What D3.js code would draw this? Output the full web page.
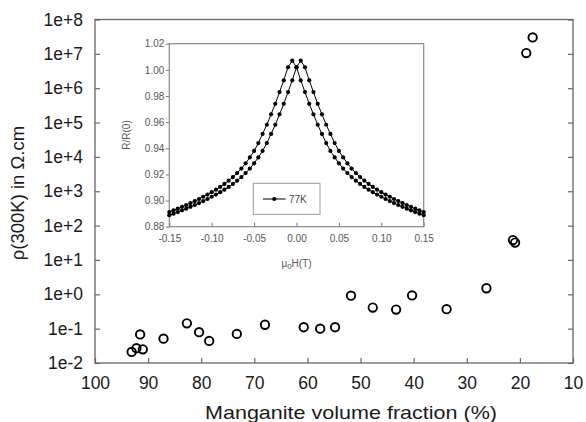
<!DOCTYPE html>
<html>
<head>
<meta charset="utf-8">
<script src="https://cdn.jsdelivr.net/npm/d3@7"></script>
<style>
  body { margin: 0; background: #fff; }
  svg { display: block; font-family: "Liberation Sans", Arial, sans-serif; }
  .axis path.domain { display: none; }
  .main .tick line { stroke: #666; stroke-width: 1.2; }
  .main .tick text { fill: #1a1a1a; font-size: 17.5px; }
  .inset .tick line { stroke: #777; stroke-width: 1; }
  .inset .tick text { fill: #555; font-size: 10px; }
</style>
</head>
<body>
<div id="chart"></div>
<script>
// main plot: room-temperature resistivity vs manganite volume fraction
var fraction = [93.1, 92.2, 91.0, 91.5, 87.1, 82.7, 80.4, 78.5, 73.3, 68.0, 60.7, 57.6,
                54.8, 51.8, 47.7, 43.3, 40.3, 33.8, 26.3, 21.3, 20.9, 18.8, 17.6];
var resistivity = [0.021, 0.027, 0.025, 0.068, 0.051, 0.143, 0.079, 0.044, 0.070, 0.13, 0.11, 0.10,
                   0.11, 0.91, 0.41, 0.36, 0.93, 0.37, 1.5, 38, 32, 1.05e7, 3.0e7];

var xTicks = [100, 90, 80, 70, 60, 50, 40, 30, 20, 10];
var yTicks = [1e-2, 1e-1, 1e0, 1e1, 1e2, 1e3, 1e4, 1e5, 1e6, 1e7, 1e8];
var yTickLabels = ["1e-2", "1e-1", "1e+0", "1e+1", "1e+2", "1e+3", "1e+4", "1e+5", "1e+6", "1e+7", "1e+8"];

// inset: magnetoresistance at 77K, up and down sweeps
var field = [-0.150, -0.145, -0.140, -0.135, -0.130, -0.125, -0.120, -0.115, -0.110, -0.105,
             -0.100, -0.095, -0.090, -0.085, -0.080, -0.075, -0.070, -0.065, -0.060, -0.055,
             -0.050, -0.045, -0.040, -0.035, -0.030, -0.025, -0.020, -0.015, -0.010, -0.005,
              0.000,  0.005,  0.010,  0.015,  0.020,  0.025,  0.030,  0.035,  0.040,  0.045,
              0.050,  0.055,  0.060,  0.065,  0.070,  0.075,  0.080,  0.085,  0.090,  0.095,
              0.100,  0.105,  0.110,  0.115,  0.120,  0.125,  0.130,  0.135,  0.140,  0.145, 0.150];
var sweepDown = [0.8912, 0.8925, 0.8938, 0.8952, 0.8966, 0.8981, 0.8996, 0.9012, 0.9029, 0.9046,
                 0.9064, 0.9083, 0.9104, 0.9127, 0.9152, 0.9180, 0.9210, 0.9245, 0.9285, 0.9330,
                 0.9380, 0.9440, 0.9510, 0.9580, 0.9660, 0.9740, 0.9830, 0.9920, 1.0020, 1.0070,
                 1.0020, 0.9920, 0.9830, 0.9740, 0.9660, 0.9580, 0.9510, 0.9440, 0.9380, 0.9330,
                 0.9285, 0.9245, 0.9210, 0.9180, 0.9152, 0.9127, 0.9104, 0.9083, 0.9064, 0.9046,
                 0.9029, 0.9012, 0.8996, 0.8981, 0.8966, 0.8952, 0.8938, 0.8925, 0.8912, 0.8900, 0.8888];
var sweepUp = [0.8888, 0.8900, 0.8912, 0.8925, 0.8938, 0.8952, 0.8966, 0.8981, 0.8996, 0.9012,
               0.9029, 0.9046, 0.9064, 0.9083, 0.9104, 0.9127, 0.9152, 0.9180, 0.9210, 0.9245,
               0.9285, 0.9330, 0.9380, 0.9440, 0.9510, 0.9580, 0.9660, 0.9740, 0.9830, 0.9920,
               1.0020, 1.0070, 1.0020, 0.9920, 0.9830, 0.9740, 0.9660, 0.9580, 0.9510, 0.9440,
               0.9380, 0.9330, 0.9285, 0.9245, 0.9210, 0.9180, 0.9152, 0.9127, 0.9104, 0.9083,
               0.9064, 0.9046, 0.9029, 0.9012, 0.8996, 0.8981, 0.8966, 0.8952, 0.8938, 0.8925, 0.8912];

var insetXTicks = [-0.15, -0.10, -0.05, 0.00, 0.05, 0.10, 0.15];
var insetXTickLabels = ["-0.15", "-0.10", "-0.05", "0.00", "0.05", "0.10", "0.15"];
var insetYTicks = [0.88, 0.90, 0.92, 0.94, 0.96, 0.98, 1.00, 1.02];

var width = 586, height = 422;
var plot = { left: 95, right: 573, top: 19.5, bottom: 363 };
var box = { left: 169.3, right: 423.7, top: 43.7, bottom: 226.7 };

var svg = d3.select("#chart").append("svg")
    .attr("width", width)
    .attr("height", height);

var x = d3.scaleLinear().domain([100, 10]).range([plot.left, plot.right]);
var y = d3.scaleLog().domain([1e-2, 1e8]).range([plot.bottom, plot.top]);

// ---- main axes ----
var main = svg.append("g").attr("class", "main");

main.append("g")
    .attr("class", "axis")
    .attr("transform", "translate(0," + plot.bottom + ")")
    .call(d3.axisBottom(x).tickValues(xTicks).tickFormat(d3.format("d"))
        .tickSizeInner(-5).tickSizeOuter(0).tickPadding(14));

main.append("g")
    .attr("class", "axis")
    .attr("transform", "translate(" + plot.left + ",0)")
    .call(d3.axisLeft(y).tickValues(yTicks)
        .tickFormat(function(d, i) { return yTickLabels[i]; })
        .tickSizeInner(-5).tickSizeOuter(0).tickPadding(12));

main.append("g")
    .attr("class", "axis")
    .attr("transform", "translate(" + plot.right + ",0)")
    .call(d3.axisRight(y).tickValues(yTicks).tickFormat("")
        .tickSizeInner(-5).tickSizeOuter(0));

main.append("rect")
    .attr("x", plot.left)
    .attr("y", plot.top)
    .attr("width", plot.right - plot.left)
    .attr("height", plot.bottom - plot.top)
    .attr("fill", "none")
    .attr("stroke", "#666")
    .attr("stroke-width", 1.3);

main.append("text")
    .attr("x", 351)
    .attr("y", 419)
    .attr("textLength", 292)
    .attr("lengthAdjust", "spacingAndGlyphs")
    .style("text-anchor", "middle")
    .style("font-size", "18.5px")
    .style("fill", "#1a1a1a")
    .text("Manganite volume fraction (%)");

main.append("text")
    .attr("transform", "translate(24,193) rotate(-90)")
    .style("text-anchor", "middle")
    .style("font-size", "18.5px")
    .style("fill", "#1a1a1a")
    .text("\u03c1(300K) in \u03a9.cm");

main.selectAll(".dot")
    .data(fraction)
    .enter().append("circle")
    .attr("class", "dot")
    .attr("cx", function(d) { return x(d); })
    .attr("cy", function(d, i) { return y(resistivity[i]); })
    .attr("r", 4.2)
    .attr("fill", "none")
    .attr("stroke", "#000")
    .attr("stroke-width", 1.9);

// ---- inset ----
var ix = d3.scaleLinear().domain([-0.15, 0.15]).range([box.left, box.right]);
var iy = d3.scaleLinear().domain([0.88, 1.02]).range([box.bottom, box.top]);

var inset = svg.append("g").attr("class", "inset");

inset.append("g")
    .attr("class", "axis")
    .attr("transform", "translate(0," + box.bottom + ")")
    .call(d3.axisBottom(ix).tickValues(insetXTicks)
        .tickFormat(function(d, i) { return insetXTickLabels[i]; })
        .tickSizeInner(-4).tickSizeOuter(0).tickPadding(8.3));

inset.append("g")
    .attr("class", "axis")
    .attr("transform", "translate(" + box.left + ",0)")
    .call(d3.axisLeft(iy).tickValues(insetYTicks).tickFormat(d3.format(".2f"))
        .tickSizeInner(3.5).tickSizeOuter(0).tickPadding(1.5));

inset.append("rect")
    .attr("x", box.left)
    .attr("y", box.top)
    .attr("width", box.right - box.left)
    .attr("height", box.bottom - box.top)
    .attr("fill", "none")
    .attr("stroke", "#888")
    .attr("stroke-width", 1.2);

inset.append("text")
    .attr("transform", "translate(130,135) rotate(-90)")
    .style("text-anchor", "middle")
    .style("font-size", "10px")
    .style("fill", "#555")
    .text("R/R(0)");

var hl = inset.append("text")
    .attr("x", 296.5)
    .attr("y", 266.5)
    .style("text-anchor", "middle")
    .style("font-size", "10px")
    .style("fill", "#555");
hl.append("tspan").text("\u03bc");
hl.append("tspan").attr("dy", 2.5).style("font-size", "8px").text("0");
hl.append("tspan").attr("dy", -2.5).text("H(T)");

var line = d3.line()
    .x(function(d) { return ix(d[0]); })
    .y(function(d) { return iy(d[1]); });

[sweepDown, sweepUp].forEach(function(series) {
    var pts = field.map(function(h, i) { return [h, series[i]]; });
    inset.append("path")
        .datum(pts)
        .attr("d", line)
        .attr("fill", "none")
        .attr("stroke", "#000")
        .attr("stroke-width", 1);
    inset.selectAll(null)
        .data(pts)
        .enter().append("circle")
        .attr("cx", function(d) { return ix(d[0]); })
        .attr("cy", function(d) { return iy(d[1]); })
        .attr("r", 2.1)
        .attr("fill", "#000");
});

// legend
var lg = inset.append("g");
lg.append("rect")
    .attr("x", 253.3).attr("y", 183.3)
    .attr("width", 66.7).attr("height", 31)
    .attr("fill", "#fff")
    .attr("stroke", "#999")
    .attr("stroke-width", 1);
lg.append("line")
    .attr("x1", 263).attr("x2", 285.7)
    .attr("y1", 199).attr("y2", 199)
    .attr("stroke", "#000").attr("stroke-width", 1);
lg.append("circle")
    .attr("cx", 274.3).attr("cy", 199).attr("r", 2.1)
    .attr("fill", "#000");
lg.append("text")
    .attr("x", 289).attr("y", 202.5)
    .style("font-size", "10px")
    .style("fill", "#444")
    .text("77K");
</script>
</body>
</html>
